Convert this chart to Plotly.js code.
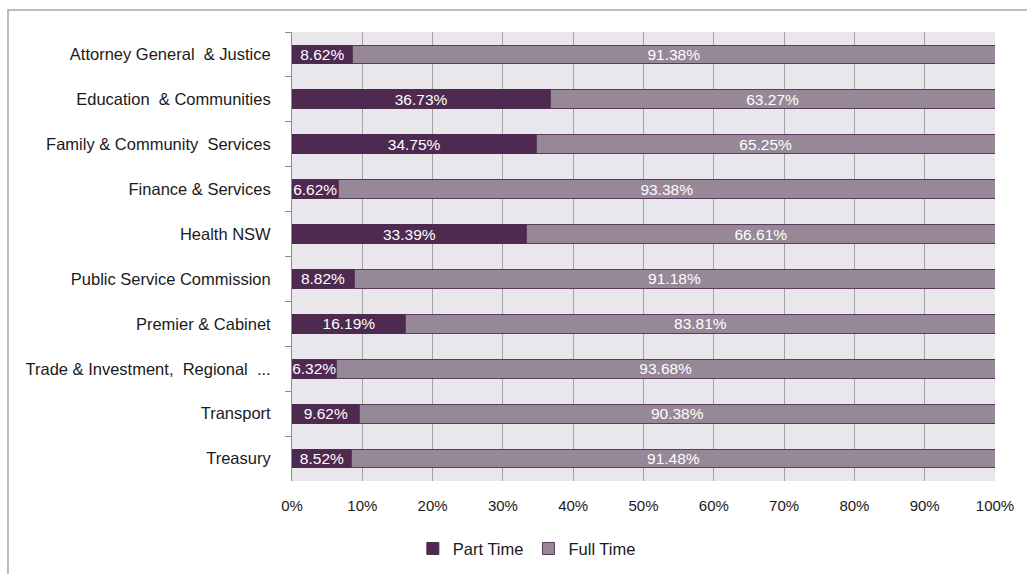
<!DOCTYPE html>
<html>
<head>
<meta charset="utf-8">
<script src="https://cdn.plot.ly/plotly-3.0.1.min.js"></script>
<style>html,body{margin:0;padding:0;background:#fff;}#chart{width:1027px;height:574px;}</style>
</head>
<body>
<div id="chart"></div>
<script>
const categories = ["Attorney General  & Justice","Education  & Communities","Family & Community  Services","Finance & Services","Health NSW","Public Service Commission","Premier & Cabinet","Trade & Investment,  Regional  ...","Transport","Treasury"];
const partTime = [8.62, 36.73, 34.75, 6.62, 33.39, 8.82, 16.19, 6.32, 9.62, 8.52];
const fullTime = [91.38, 63.27, 65.25, 93.38, 66.61, 91.18, 83.81, 93.68, 90.38, 91.48];
const xTickVals = [0,10,20,30,40,50,60,70,80,90,100];
const xTickText = ["0%","10%","20%","30%","40%","50%","60%","70%","80%","90%","100%"];

const labelFont = {family: "'Liberation Sans Narrow', 'Arial Narrow', 'Liberation Sans', Arial, sans-serif", size: 15.5, color: "#ffffff"};
const fmt = v => v.toFixed(2) + "%";

const traces = [
  {
    type: "bar", orientation: "h", name: "Part Time",
    y: categories, x: partTime,
    text: partTime.map(fmt), textposition: "inside", insidetextanchor: "middle",
    constraintext: "none", textangle: 0, textfont: labelFont, cliponaxis: false,
    marker: {color: "#4E2A51", line: {color: "#4E2A51", width: 1}},
    hoverinfo: "x+y"
  },
  {
    type: "bar", orientation: "h", name: "Full Time",
    y: categories, x: fullTime,
    text: fullTime.map(fmt), textposition: "inside", insidetextanchor: "middle",
    constraintext: "none", textangle: 0, textfont: labelFont,
    marker: {color: "#968897", line: {color: "#5A3A5D", width: 1}},
    hoverinfo: "x+y"
  }
];

const layout = {
  width: 1027, height: 574,
  margin: {l: 292, r: 32, t: 32, b: 93},
  barmode: "stack", bargap: 0.58,
  paper_bgcolor: "#ffffff", plot_bgcolor: "#E9E7EB",
  font: {family: "'Liberation Sans', Arial, sans-serif", size: 15, color: "#1a1a1a"},
  xaxis: {
    range: [0, 100], tickvals: xTickVals, ticktext: xTickText,
    showgrid: true, gridcolor: "#A3A3A3", gridwidth: 1, zeroline: false,
    showline: false, ticks: "", ticklabelstandoff: 14, automargin: false,
    tickfont: {size: 15, color: "#1a1a1a"}, fixedrange: true
  },
  yaxis: {
    type: "category", autorange: "reversed", automargin: false,
    showgrid: false, showline: true, linecolor: "#8C8C8C", linewidth: 1,
    ticks: "outside", tickson: "boundaries", ticklen: 6, tickcolor: "#8C8C8C",
    ticklabelstandoff: 17,
    tickfont: {size: 16.5, color: "#1a1a1a"}, fixedrange: true
  },
  legend: {
    orientation: "h", xref: "container", yref: "container",
    x: 0.513, xanchor: "center", y: 0.044, yanchor: "middle",
    font: {size: 16.5, color: "#1a1a1a"}, traceorder: "normal", itemwidth: 30
  },
  shapes: [
    {type: "rect", xref: "paper", yref: "paper", x0: -0.404, x1: 1.06, y0: 1.049, y1: -0.25,
     line: {color: "#A6A6A6", width: 1.5}, fillcolor: "rgba(0,0,0,0)", layer: "below"}
  ]
};

Plotly.newPlot("chart", traces, layout, {displayModeBar: false, staticPlot: true});
</script>
</body>
</html>
